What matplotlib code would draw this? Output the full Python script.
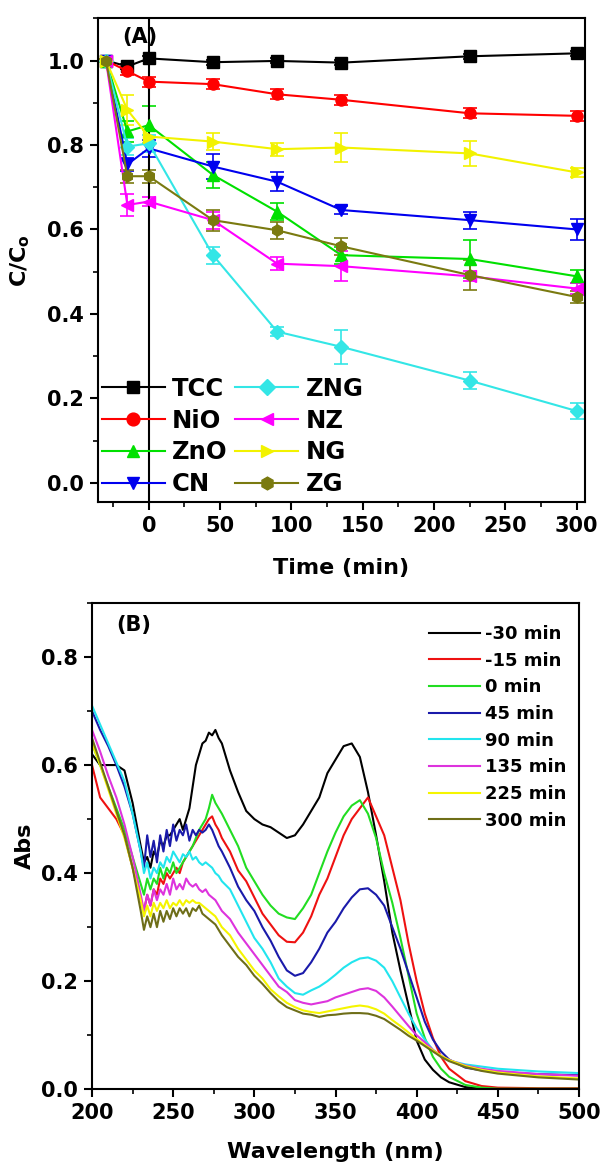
import numpy as np
import matplotlib
matplotlib.use("Agg")
import matplotlib.pyplot as plt
from matplotlib.ticker import MultipleLocator

plt.rcParams['font.family'] = ['DejaVu Sans']
plt.rcParams['font.weight'] = 'bold'
plt.rcParams['mathtext.default'] = 'bf'

# ---------------- Panel A data ----------------
time_min = [-30, -15, 0, 45, 90, 135, 225, 300]
names_a = ["TCC", "NiO", "ZnO", "CN", "ZNG", "NZ", "NG", "ZG"]
tcc = [1.0, 0.986, 1.005, 0.996, 0.999, 0.995, 1.010, 1.017]
nio = [1.0, 0.975, 0.950, 0.944, 0.920, 0.907, 0.875, 0.869]
zno = [1.0, 0.832, 0.847, 0.729, 0.642, 0.539, 0.530, 0.489]
cn = [1.0, 0.754, 0.792, 0.749, 0.713, 0.646, 0.622, 0.600]
zng = [1.0, 0.796, 0.804, 0.539, 0.358, 0.322, 0.242, 0.170]
nz = [1.0, 0.658, 0.666, 0.622, 0.519, 0.513, 0.489, 0.460]
ng = [1.0, 0.883, 0.820, 0.808, 0.790, 0.794, 0.780, 0.735]
zg = [1.0, 0.726, 0.726, 0.622, 0.598, 0.560, 0.492, 0.440]

tcc_err = [0.004, 0.006, 0.006, 0.006, 0.006, 0.006, 0.006, 0.006]
nio_err = [0.004, 0.010, 0.012, 0.012, 0.012, 0.012, 0.012, 0.012]
zno_err = [0.004, 0.025, 0.045, 0.030, 0.020, 0.020, 0.045, 0.015]
cn_err = [0.004, 0.015, 0.020, 0.030, 0.022, 0.010, 0.020, 0.025]
zng_err = [0.004, 0.020, 0.020, 0.020, 0.010, 0.040, 0.020, 0.020]
nz_err = [0.004, 0.025, 0.010, 0.020, 0.015, 0.035, 0.012, 0.012]
ng_err = [0.004, 0.035, 0.015, 0.020, 0.015, 0.035, 0.030, 0.010]
zg_err = [0.004, 0.015, 0.015, 0.025, 0.020, 0.020, 0.035, 0.015]

# ---------------- Panel B data ----------------
wl = [200, 205, 210, 215, 220, 225,
      230, 232, 234, 236, 238, 240, 242, 244, 246, 248, 250, 252, 254, 256,
      258, 260, 262, 264, 266, 268, 270, 272, 274, 276, 278, 280,
      285, 290, 295, 300, 305, 310, 315, 320, 325, 330, 335, 340, 345, 350,
      355, 360, 365, 370, 375, 380, 385, 390, 395, 400, 405, 410, 415, 420,
      430, 440, 450, 475, 500]
names_b = ["-30 min", "-15 min", "0 min", "45 min", "90 min", "135 min", "225 min", "300 min"]
abs_m30 = [0.62, 0.60, 0.60, 0.60, 0.59, 0.53,
           0.45, 0.42, 0.43, 0.41, 0.44, 0.43, 0.46, 0.45, 0.47, 0.47, 0.48, 0.49, 0.50, 0.48,
           0.50, 0.52, 0.56, 0.60, 0.62, 0.64, 0.645, 0.66, 0.655, 0.665, 0.65, 0.64,
           0.59, 0.55, 0.515, 0.50, 0.49, 0.485, 0.475, 0.465, 0.47, 0.49, 0.515, 0.54, 0.585, 0.61,
           0.635, 0.64, 0.615, 0.55, 0.47, 0.385, 0.29, 0.22, 0.155, 0.09, 0.055, 0.036, 0.022, 0.013,
           0.004, 0.001, 0.0, 0.0, 0.0]
abs_m15 = [0.60, 0.54, 0.52, 0.50, 0.47, 0.41,
           0.35, 0.33, 0.36, 0.34, 0.37, 0.36, 0.39, 0.38, 0.40, 0.39, 0.40, 0.41, 0.40, 0.42,
           0.43, 0.44, 0.45, 0.46, 0.47, 0.48, 0.49, 0.50, 0.505, 0.49, 0.48, 0.465,
           0.44, 0.405, 0.385, 0.355, 0.325, 0.305, 0.285, 0.273, 0.272, 0.29, 0.32, 0.36, 0.39, 0.43,
           0.47, 0.50, 0.52, 0.54, 0.505, 0.47, 0.41, 0.35, 0.27, 0.20, 0.14, 0.095, 0.06, 0.038,
           0.015, 0.006, 0.003, 0.002, 0.002]
abs_0 = [0.64, 0.60, 0.56, 0.52, 0.48, 0.43,
         0.38, 0.36, 0.39, 0.37, 0.39, 0.38, 0.41, 0.39, 0.41, 0.40, 0.42, 0.40, 0.41, 0.42,
         0.43, 0.44, 0.45, 0.465, 0.48, 0.49, 0.50, 0.52, 0.545, 0.53, 0.52, 0.51,
         0.48, 0.45, 0.41, 0.385, 0.36, 0.34, 0.325, 0.318, 0.315, 0.335, 0.36, 0.40, 0.44, 0.475,
         0.505, 0.525, 0.535, 0.51, 0.465, 0.40, 0.345, 0.28, 0.21, 0.14, 0.095, 0.06, 0.038, 0.023,
         0.008, 0.003, 0.001, 0.001, 0.001]
abs_45 = [0.70, 0.665, 0.635, 0.60, 0.56, 0.51,
          0.44, 0.41, 0.47, 0.43, 0.46, 0.42, 0.47, 0.44, 0.48, 0.45, 0.49, 0.46, 0.48, 0.47,
          0.49, 0.46, 0.48, 0.47, 0.48, 0.475, 0.48, 0.49, 0.48, 0.465, 0.45, 0.44,
          0.41, 0.375, 0.35, 0.33, 0.30, 0.275, 0.245, 0.22, 0.21, 0.215, 0.235, 0.26, 0.29, 0.31,
          0.335, 0.355, 0.37, 0.372, 0.36, 0.34, 0.30, 0.26, 0.215, 0.17, 0.125, 0.092, 0.07, 0.055,
          0.04, 0.035, 0.032, 0.028, 0.026]
abs_90 = [0.71, 0.675, 0.64, 0.605, 0.57, 0.51,
          0.44, 0.40, 0.42, 0.39, 0.41, 0.40, 0.42, 0.41, 0.43, 0.42, 0.44, 0.43, 0.42, 0.435,
          0.43, 0.44, 0.425, 0.43, 0.42, 0.415, 0.42, 0.415, 0.41, 0.40, 0.395, 0.385,
          0.37, 0.34, 0.31, 0.28, 0.26, 0.235, 0.205, 0.19, 0.178, 0.175, 0.183, 0.19, 0.20, 0.212,
          0.225, 0.235, 0.242, 0.244, 0.238, 0.225, 0.20, 0.17, 0.14, 0.113, 0.092, 0.073, 0.06, 0.053,
          0.046, 0.042, 0.038, 0.033, 0.030]
abs_135 = [0.665, 0.625, 0.58, 0.54, 0.49, 0.43,
           0.36, 0.33, 0.36, 0.34, 0.37, 0.35, 0.37, 0.36, 0.38, 0.36, 0.39, 0.37, 0.38, 0.37,
           0.39, 0.38, 0.375, 0.38, 0.37, 0.365, 0.37, 0.36, 0.355, 0.35, 0.34, 0.33,
           0.315, 0.29, 0.27, 0.25, 0.23, 0.21, 0.19, 0.18, 0.165, 0.16, 0.157, 0.16, 0.163, 0.17,
           0.175, 0.18, 0.185, 0.187, 0.182, 0.17, 0.153, 0.135, 0.117, 0.10, 0.087, 0.073, 0.062, 0.054,
           0.044, 0.038, 0.034, 0.028, 0.025]
abs_225 = [0.64, 0.60, 0.555, 0.51, 0.465, 0.41,
           0.35, 0.32, 0.34, 0.32, 0.345, 0.33, 0.345, 0.335, 0.35, 0.335, 0.345, 0.34, 0.35, 0.34,
           0.35, 0.345, 0.35, 0.345, 0.345, 0.34, 0.335, 0.33, 0.325, 0.32, 0.31, 0.30,
           0.285, 0.26, 0.24, 0.22, 0.205, 0.185, 0.172, 0.16, 0.152, 0.146, 0.143, 0.141, 0.144, 0.147,
           0.15, 0.153, 0.155, 0.153, 0.148, 0.14, 0.128, 0.117, 0.105, 0.093, 0.082, 0.072, 0.062, 0.054,
           0.043, 0.036, 0.031, 0.024, 0.020]
abs_300 = [0.65, 0.605, 0.56, 0.515, 0.47, 0.41,
           0.33, 0.295, 0.32, 0.30, 0.325, 0.30, 0.33, 0.31, 0.33, 0.315, 0.335, 0.32, 0.335, 0.325,
           0.335, 0.32, 0.335, 0.33, 0.34, 0.325, 0.32, 0.315, 0.31, 0.305, 0.295, 0.285,
           0.265, 0.245, 0.23, 0.21, 0.195, 0.178, 0.163, 0.152, 0.146, 0.14, 0.138, 0.134, 0.137, 0.138,
           0.14, 0.141, 0.141, 0.14, 0.136, 0.13, 0.12, 0.11, 0.099, 0.09, 0.08, 0.07, 0.06, 0.052,
           0.041, 0.034, 0.029, 0.022, 0.018]

# ---------------- styles ----------------
colors_a = ["#000000", "#FF0000", "#00E000", "#0000EE", "#33E6E6", "#FF00FF", "#F2F200", "#7A7A10"]
markers_a = ["s", "o", "^", "v", "D", "<", ">", "h"]
colors_b = ["#000000", "#EE1111", "#22DD22", "#1A1AAA", "#22E5EE", "#DD33DD", "#F5F500", "#6E6E18"]

fig = plt.figure(figsize=(6.03, 11.64), dpi=100)
axA = fig.add_axes([0.1625, 0.5685, 0.807, 0.4158])
axB = fig.add_axes([0.1526, 0.0642, 0.8076, 0.4178])

series_a = [tcc, nio, zno, cn, zng, nz, ng, zg]
errs_a = [tcc_err, nio_err, zno_err, cn_err, zng_err, nz_err, ng_err, zg_err]
handles = []
for name, y, e, c, m in zip(names_a, series_a, errs_a, colors_a, markers_a):
    ms = 8 if m not in ("D",) else 7
    cont = axA.errorbar(time_min, y, yerr=e, color=c, marker=m, markersize=ms, lw=1.5,
                        capsize=5, capthick=1.2, elinewidth=1.2, label=name)
    handles.append(cont[0])

axA.axvline(0, color='black', lw=1.5)
axA.set_xlim(-35.6, 305.5)
axA.set_ylim(-0.046, 1.10)
axA.xaxis.set_major_locator(MultipleLocator(50))
axA.xaxis.set_minor_locator(MultipleLocator(25))
axA.yaxis.set_major_locator(MultipleLocator(0.2))
axA.yaxis.set_minor_locator(MultipleLocator(0.1))
axA.set_xlabel("Time (min)", fontsize=16, fontweight='bold')
axA.set_ylabel(r"C/C$_\mathbf{o}$", fontsize=16, fontweight='bold')
axA.xaxis.set_label_coords(0.5, -0.136)
axA.xaxis.label.set_va('center')
axA.yaxis.set_label_coords(-0.16, 0.5)
axA.yaxis.label.set_va('center')
axA.text(0.05, 0.962, "(A)", transform=axA.transAxes, fontsize=15, fontweight='bold',
         ha='left', va='center')
axA.legend(handles, names_a, ncol=2, loc='lower left', frameon=False, fontsize=17.5,
           handlelength=2.6, handletextpad=0.3, columnspacing=0.3,
           labelspacing=0.32, borderaxespad=0.0, borderpad=0.15, markerscale=1.15,
           bbox_to_anchor=(0.0, 0.005))

for name, y, c in zip(names_b, [abs_m30, abs_m15, abs_0, abs_45, abs_90, abs_135, abs_225, abs_300], colors_b):
    axB.plot(wl, y, color=c, lw=1.5, label=name)
axB.set_xlim(200, 500)
axB.set_ylim(0, 0.90)
axB.xaxis.set_major_locator(MultipleLocator(50))
axB.xaxis.set_minor_locator(MultipleLocator(25))
axB.yaxis.set_major_locator(MultipleLocator(0.2))
axB.yaxis.set_minor_locator(MultipleLocator(0.1))
axB.set_xlabel("Wavelength (nm)", fontsize=16, fontweight='bold')
axB.set_ylabel("Abs", fontsize=16, fontweight='bold')
axB.xaxis.set_label_coords(0.5, -0.129)
axB.xaxis.label.set_va('center')
axB.yaxis.set_label_coords(-0.138, 0.5)
axB.yaxis.label.set_va('center')
axB.text(0.05, 0.955, "(B)", transform=axB.transAxes, fontsize=15, fontweight='bold',
         ha='left', va='center')
axB.legend(loc='upper right', frameon=False, fontsize=13, handlelength=2.8,
           handletextpad=0.3, labelspacing=0.48, borderaxespad=0.0, borderpad=0.0,
           bbox_to_anchor=(0.974, 0.955))

for ax in (axA, axB):
    for s in ax.spines.values():
        s.set_linewidth(1.5)
    ax.tick_params(which='major', direction='out', length=6, width=1.5, labelsize=15, pad=4)
    ax.tick_params(which='minor', direction='out', length=3.5, width=1.2)
    for lab in ax.get_xticklabels() + ax.get_yticklabels():
        lab.set_fontweight('bold')

fig.savefig("out.png", dpi=100)
